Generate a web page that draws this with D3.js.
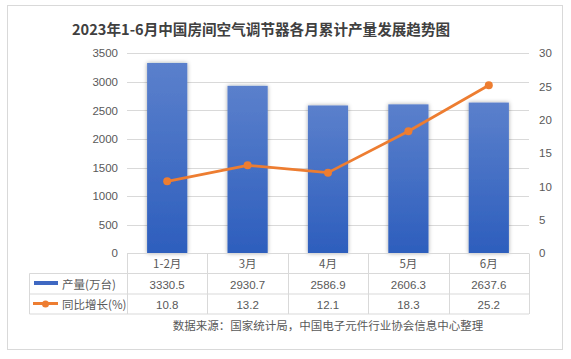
<!DOCTYPE html>
<html><head><meta charset="utf-8">
<script src="https://cdn.jsdelivr.net/npm/d3@7/dist/d3.min.js"></script>
<style>body{margin:0;background:#fff}svg{display:block;font-family:"Noto Sans CJK SC","DejaVu Sans",sans-serif}</style>
</head><body><svg id="c" width="571" height="359"></svg>
<script>
const categories = ["1-2月","3月","4月","5月","6月"];
const output = [3330.5, 2930.7, 2586.9, 2606.3, 2637.6];
const growth = [10.8, 13.2, 12.1, 18.3, 25.2];
const leftTicks = [0,500,1000,1500,2000,2500,3000,3500];
const rightTicks = [0,5,10,15,20,25,30];
const seriesNames = ["产量(万台)","同比增长(%)"];
const title = "2023年1-6月中国房间空气调节器各月累计产量发展趋势图";
const source = "数据来源：国家统计局，中国电子元件行业协会信息中心整理";

const svg = d3.select("#c");
const L = 127, R = 529, T = 53.3, B = 253.3;
const grid = "#d9d9d9", txt = "#595959";

const defs = svg.append("defs");
const g1 = defs.append("linearGradient").attr("id","bg").attr("x1",0).attr("y1",0).attr("x2",0).attr("y2",1);
g1.append("stop").attr("offset","0%").attr("stop-color","#5b80cc");
g1.append("stop").attr("offset","100%").attr("stop-color","#2d5ebd");
const f = defs.append("filter").attr("id","sh").attr("x","-20%").attr("y","-10%").attr("width","140%").attr("height","120%");
f.append("feDropShadow").attr("dx",0).attr("dy",0).attr("stdDeviation",2).attr("flood-color","#000").attr("flood-opacity",0.35);

svg.append("rect").attr("x",7.5).attr("y",5.5).attr("width",555).attr("height",344).attr("fill","#fff").attr("stroke","#d9d9d9");

svg.append("text").attr("x",72).attr("y",35).attr("font-size",14.6).attr("font-weight","bold").attr("fill","#404040").text(title);

const x = d3.scaleBand().domain(categories).range([L,R]).paddingInner(0.5).paddingOuter(0.25);
const xb = d3.scaleBand().domain(categories).range([L,R]);
const y = d3.scaleLinear().domain([0,3500]).range([B,T]);
const y2 = d3.scaleLinear().domain([0,30]).range([B,T]);

// gridlines
svg.append("g").selectAll("line").data(leftTicks.slice(1)).join("line")
  .attr("x1",L).attr("x2",R).attr("y1",d=>Math.round(y(d))+0.5).attr("y2",d=>Math.round(y(d))+0.5)
  .attr("stroke",grid);

const ly = svg.append("g").attr("transform",`translate(${L-9},0)`)
  .call(d3.axisLeft(y).tickValues(leftTicks).tickFormat(d3.format("d")).tickSize(0).tickPadding(0));
ly.select(".domain").remove();
ly.selectAll("text").attr("font-size",11.5).attr("fill",txt).attr("font-family","Liberation Sans, Arial, sans-serif");

const ry = svg.append("g").attr("transform",`translate(${R+10},0)`)
  .call(d3.axisRight(y2).tickValues(rightTicks).tickFormat(d3.format("d")).tickSize(0).tickPadding(0));
ry.select(".domain").remove();
ry.selectAll("text").attr("font-size",11.5).attr("fill",txt).attr("font-family","Liberation Sans, Arial, sans-serif");

// bars
svg.append("g").selectAll("rect").data(output).join("rect")
  .attr("x",(d,i)=>x(categories[i])).attr("width",x.bandwidth())
  .attr("y",d=>y(d)).attr("height",d=>B-y(d))
  .attr("fill","url(#bg)").attr("filter","url(#sh)");

// line
const line = d3.line().x((d,i)=>xb(categories[i])+xb.bandwidth()/2).y(d=>y2(d));
svg.append("path").datum(growth).attr("d",line).attr("fill","none").attr("stroke","#ED7D31").attr("stroke-width",2.75).attr("stroke-linejoin","round");
svg.append("g").selectAll("circle").data(growth).join("circle")
  .attr("cx",(d,i)=>xb(categories[i])+xb.bandwidth()/2).attr("cy",d=>y2(d)).attr("r",4).attr("fill","#ED7D31");

// data table
const rows = [253.5, 273.5, 294, 314];
const tb = svg.append("g").attr("stroke",grid).attr("fill","none");
tb.append("line").attr("x1",L).attr("x2",R).attr("y1",rows[0]).attr("y2",rows[0]);
[1,2,3].forEach(k=>tb.append("line").attr("x1",29.5).attr("x2",R).attr("y1",rows[k]).attr("y2",rows[k]));
tb.append("line").attr("x1",29.5).attr("x2",29.5).attr("y1",rows[1]).attr("y2",rows[3]);
categories.forEach((c,i)=>{
  const xx = Math.round(xb(c))+0.5;
  tb.append("line").attr("x1",xx).attr("x2",xx).attr("y1",rows[0]).attr("y2",rows[3]);
});
tb.append("line").attr("x1",R+0.5).attr("x2",R+0.5).attr("y1",rows[0]).attr("y2",rows[3]);

const tt = svg.append("g").attr("font-size",11.5).attr("fill",txt).attr("text-anchor","middle");
categories.forEach((c,i)=>{
  const cx = xb(c)+xb.bandwidth()/2;
  tt.append("text").attr("x",cx).attr("y",268).text(c);
  tt.append("text").attr("x",cx).attr("y",288.5).attr("font-family","Liberation Sans, Arial, sans-serif").text(output[i].toFixed(1));
  tt.append("text").attr("x",cx).attr("y",309).attr("font-family","Liberation Sans, Arial, sans-serif").text(growth[i].toFixed(1));
});

// legend keys
svg.append("rect").attr("x",34).attr("y",281).attr("width",24).attr("height",4).attr("fill","#3f68c2");
svg.append("text").attr("x",62).attr("y",288.5).attr("font-size",11.5).attr("fill",txt).text(seriesNames[0]);
svg.append("line").attr("x1",33).attr("x2",58).attr("y1",303.5).attr("y2",303.5).attr("stroke","#ED7D31").attr("stroke-width",3);
svg.append("circle").attr("cx",45.5).attr("cy",304).attr("r",3.5).attr("fill","#ED7D31");
svg.append("text").attr("x",62).attr("y",309).attr("font-size",11.5).attr("fill",txt).text(seriesNames[1]);

svg.append("text").attr("x",328).attr("y",330).attr("text-anchor","middle").attr("font-size",11.5).attr("fill",txt).text(source);
</script></body></html>
